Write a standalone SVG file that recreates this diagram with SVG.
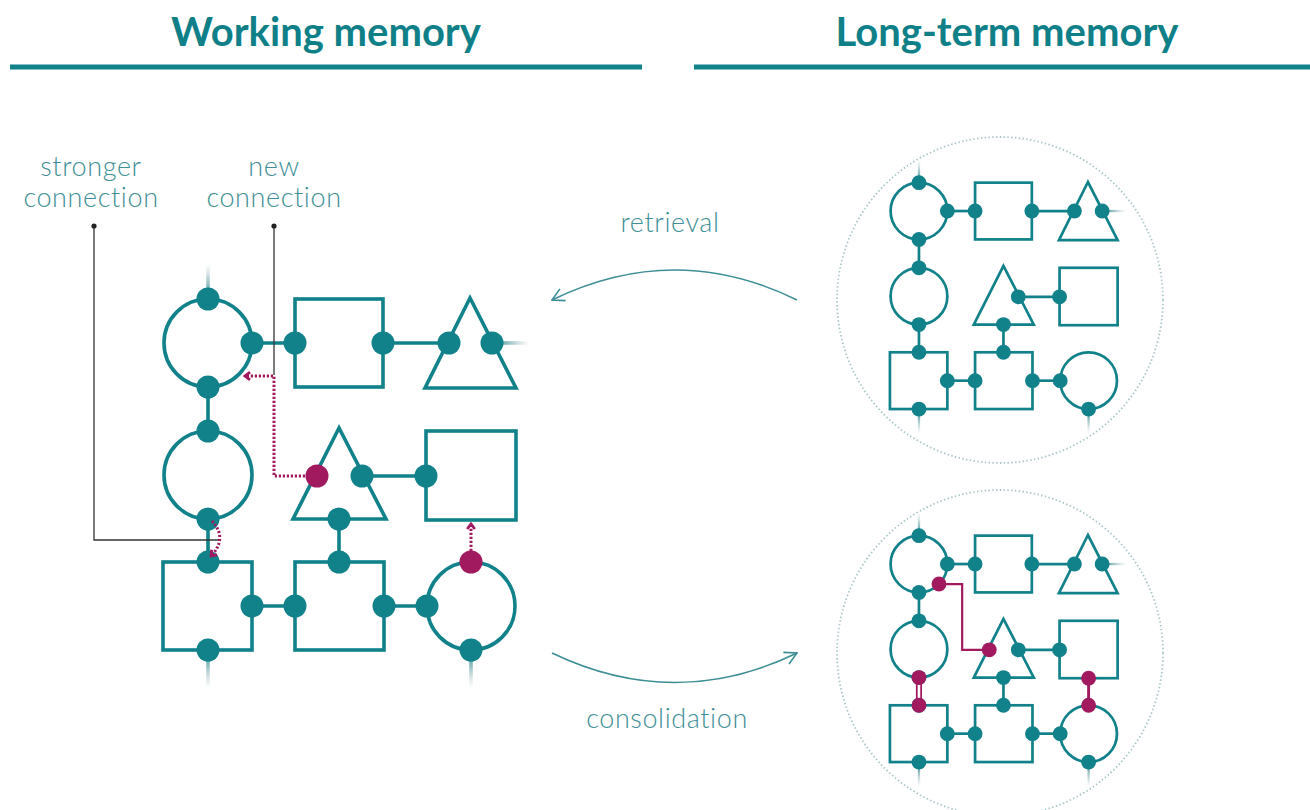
<svg xmlns="http://www.w3.org/2000/svg" xmlns:xlink="http://www.w3.org/1999/xlink" width="1310" height="810" viewBox="0 0 1310 810">
<style>
  .sh{fill:none;stroke:#11818a}
  .wire{stroke:#11818a}
  .nd{fill:#11818a}
  .mg{fill:#a1195e}
  .mgl{fill:none;stroke:#a1195e}
  .dotted{fill:none;stroke:#a1195e;stroke-width:3;stroke-dasharray:2.2 1.8}
  .hd{font-family:Lato,"Liberation Sans",sans-serif;font-weight:700;font-size:40px;fill:#0f7f88}
  .lbl{font-family:Lato,"Liberation Sans",sans-serif;font-weight:300;font-size:27px;fill:#3e8f96;letter-spacing:0.6px}
  .ptr{fill:none;stroke:#333;stroke-width:1.3}
  .flow{fill:none;stroke:#3d8e95;stroke-width:1.6}
  .ring{fill:none;stroke:#a6c4c7;stroke-width:1.8;stroke-dasharray:1.4 2.4}
  .rule{stroke:#11818a;stroke-width:5}
</style>
<defs>
  <linearGradient id="fadeUp" x1="0" y1="1" x2="0" y2="0">
    <stop offset="0" stop-color="#11818a"/>
    <stop offset="1" stop-color="#8fa9ab" stop-opacity="0"/>
  </linearGradient>
  <linearGradient id="fadeDown" x1="0" y1="0" x2="0" y2="1">
    <stop offset="0" stop-color="#11818a"/>
    <stop offset="1" stop-color="#8fa9ab" stop-opacity="0"/>
  </linearGradient>
  <linearGradient id="fadeRight" x1="0" y1="0" x2="1" y2="0">
    <stop offset="0" stop-color="#11818a"/>
    <stop offset="1" stop-color="#8fa9ab" stop-opacity="0"/>
  </linearGradient>
  <marker id="mHead" viewBox="0 0 10 10" refX="8" refY="5" markerWidth="10" markerHeight="10" markerUnits="userSpaceOnUse" orient="auto">
    <path d="M3,1.2 L8,5 L3,8.8" fill="none" stroke="#a1195e" stroke-width="2.8"/>
  </marker>
  <marker id="fHead" viewBox="0 0 16 16" refX="15" refY="8" markerWidth="16" markerHeight="16" markerUnits="userSpaceOnUse" orient="auto">
    <path d="M3,1.5 L15,8 L3,14.5" fill="none" stroke="#3d8e95" stroke-width="1.6"/>
  </marker>
  <g id="net">
    <g id="net-wires" class="wire">
      <line x1="252" y1="343" x2="295" y2="343"/>
      <line x1="383" y1="343" x2="449" y2="343"/>
      <line x1="208" y1="387" x2="208" y2="431"/>
      <line x1="208" y1="519" x2="208" y2="562"/>
      <line x1="362" y1="476" x2="426" y2="476"/>
      <line x1="339" y1="519" x2="339" y2="562"/>
      <line x1="252" y1="606" x2="295" y2="606"/>
      <line x1="384" y1="606" x2="427" y2="606"/>
    </g>
    <g id="net-stubs">
      <rect x="206.2" y="264" width="3.6" height="35" fill="url(#fadeUp)"/>
      <rect x="492" y="341.2" width="38" height="3.6" fill="url(#fadeRight)"/>
      <rect x="206.2" y="650" width="3.6" height="38" fill="url(#fadeDown)"/>
      <rect x="469.2" y="650" width="3.6" height="38" fill="url(#fadeDown)"/>
    </g>
    <g id="n-circle-a">
      <circle class="sh" cx="208" cy="343" r="44"/>
      <circle class="nd" cx="208" cy="299" r="11.5"/>
      <circle class="nd" cx="252" cy="343" r="11.5"/>
      <circle class="nd" cx="208" cy="387" r="11.5"/>
    </g>
    <g id="n-square-b">
      <rect class="sh" x="295" y="299" width="88" height="88"/>
      <circle class="nd" cx="295" cy="343" r="11.5"/>
      <circle class="nd" cx="383" cy="343" r="11.5"/>
    </g>
    <g id="n-triangle-c">
      <polygon class="sh" points="470,298 425,388 516,388"/>
      <circle class="nd" cx="449" cy="343" r="11.5"/>
      <circle class="nd" cx="492" cy="343" r="11.5"/>
    </g>
    <g id="n-circle-d">
      <circle class="sh" cx="208" cy="475" r="44"/>
      <circle class="nd" cx="208" cy="431" r="11.5"/>
      <circle class="nd" cx="208" cy="519" r="11.5"/>
    </g>
    <g id="n-triangle-e">
      <polygon class="sh" points="339,428 293,519 386,519"/>
      <circle class="nd" cx="362" cy="476" r="11.5"/>
      <circle class="nd" cx="339" cy="519" r="11.5"/>
    </g>
    <g id="n-square-f">
      <rect class="sh" x="426" y="431" width="90" height="89"/>
      <circle class="nd" cx="426" cy="476" r="11.5"/>
    </g>
    <g id="n-square-g">
      <rect class="sh" x="163" y="562" width="89" height="88"/>
      <circle class="nd" cx="208" cy="562" r="11.5"/>
      <circle class="nd" cx="252" cy="606" r="11.5"/>
      <circle class="nd" cx="208" cy="650" r="11.5"/>
    </g>
    <g id="n-square-h">
      <rect class="sh" x="295" y="562" width="89" height="88"/>
      <circle class="nd" cx="339" cy="562" r="11.5"/>
      <circle class="nd" cx="295" cy="606" r="11.5"/>
      <circle class="nd" cx="384" cy="606" r="11.5"/>
    </g>
    <g id="n-circle-i">
      <circle class="sh" cx="471" cy="606" r="44"/>
      <circle class="nd" cx="427" cy="606" r="11.5"/>
      <circle class="nd" cx="471" cy="650" r="11.5"/>
    </g>
  </g>
</defs>

<g id="headings">
  <text class="hd" x="326" y="46" text-anchor="middle">Working memory</text>
  <line class="rule" x1="10" y1="67" x2="642" y2="67"/>
  <text class="hd" x="1007" y="46" text-anchor="middle">Long-term memory</text>
  <line class="rule" x1="694" y1="67" x2="1310" y2="67"/>
</g>

<g id="labels">
  <text class="lbl" x="91" y="176" text-anchor="middle">stronger</text>
  <text class="lbl" x="91" y="207" text-anchor="middle">connection</text>
  <text class="lbl" x="274" y="176" text-anchor="middle">new</text>
  <text class="lbl" x="274" y="207" text-anchor="middle">connection</text>
  <text class="lbl" x="670" y="232" text-anchor="middle">retrieval</text>
  <text class="lbl" x="667" y="728" text-anchor="middle">consolidation</text>
</g>

<g id="working-memory">
  <use xlink:href="#net" href="#net" stroke-width="3.6"/>
  <g id="wm-pointers">
    <path class="ptr" d="M94,226 V540 H219"/>
    <path class="ptr" d="M274,226 V375"/>
    <circle cx="94" cy="226" r="2.6" fill="#222"/>
    <circle cx="274" cy="226" r="2.6" fill="#222"/>
  </g>
  <g id="wm-changes">
    <path class="dotted" d="M317,476 H274 V376 H245" marker-end="url(#mHead)"/>
    <path class="dotted" d="M471,551 V524" marker-end="url(#mHead)"/>
    <path class="dotted" d="M212,521 Q228,538 211,556" marker-end="url(#mHead)"/>
    <circle class="mg" cx="317" cy="476" r="11.5"/>
    <circle class="mg" cx="471" cy="562" r="11.5"/>
  </g>
</g>

<g id="connectors">
  <path id="retrieval-arrow" class="flow" d="M797,300 Q675,240 552,300" marker-end="url(#fHead)"/>
  <path id="consolidation-arrow" class="flow" d="M552,653 Q675,712 797,653" marker-end="url(#fHead)"/>
</g>

<g id="ltm-before">
  <circle class="ring" cx="1000" cy="300" r="163"/>
  <use xlink:href="#net" href="#net" stroke-width="4.2" transform="translate(784.8,-10.2) scale(0.645)"/>
</g>

<g id="ltm-after">
  <circle class="ring" cx="1000" cy="653" r="163"/>
  <use xlink:href="#net" href="#net" stroke-width="4.2" transform="translate(784.8,342.8) scale(0.645)"/>
  <g id="ltm-changes" transform="translate(784.8,342.8) scale(0.645)">
    <path class="mgl" stroke-width="3.4" d="M239,374 H275 V476 H317"/>
    <line x1="208" y1="519" x2="208" y2="562" stroke="#a1195e" stroke-width="9.5"/>
    <line x1="208" y1="519" x2="208" y2="562" stroke="#ffffff" stroke-width="4"/>
    <line x1="471" y1="520" x2="471" y2="562" stroke="#a1195e" stroke-width="4.5"/>
    <circle class="mg" cx="239" cy="374" r="11.5"/>
    <circle class="mg" cx="317" cy="476" r="11.5"/>
    <circle class="mg" cx="208" cy="519" r="11.5"/>
    <circle class="mg" cx="208" cy="562" r="11.5"/>
    <circle class="mg" cx="471" cy="520" r="11.5"/>
    <circle class="mg" cx="471" cy="562" r="11.5"/>
  </g>
</g>
</svg>
